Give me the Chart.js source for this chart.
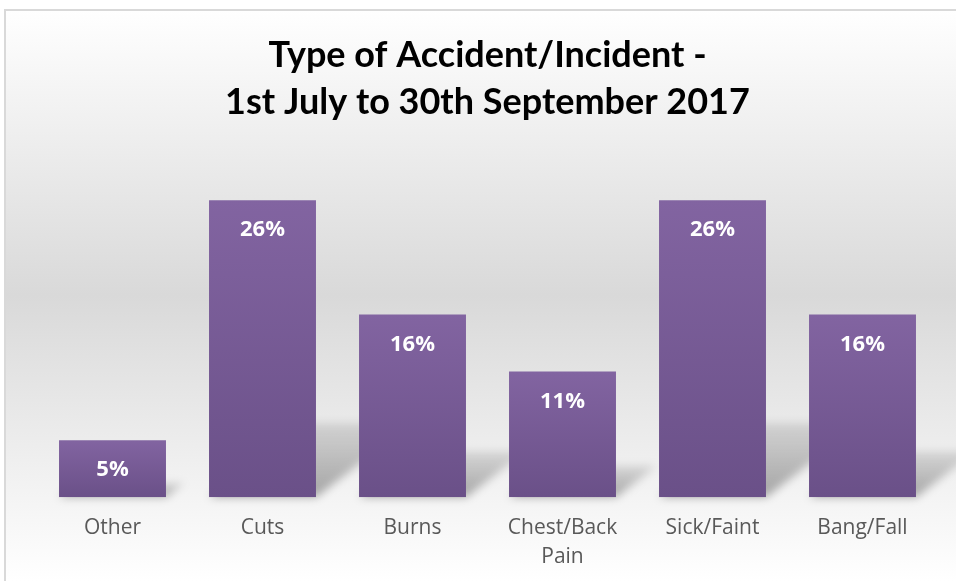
<!DOCTYPE html>
<html>
<head>
<meta charset="utf-8">
<script src="https://cdn.jsdelivr.net/npm/chart.js@4.4.1/dist/chart.umd.min.js"></script>
<style>
  html, body { margin: 0; padding: 0; background: #fff; }
</style>
</head>
<body>
<canvas id="grafico" width="956" height="581"></canvas>
<script>
// dados do gráfico
const categorias = ['Other', 'Cuts', 'Burns', ['Chest/Back', 'Pain'], 'Sick/Faint', 'Bang/Fall'];
const percentuais = [5, 26, 16, 11, 26, 16];
const tituloLinhas = ['Type of Accident/Incident -', '1st July to 30th September 2017'];

// fundo com degradê e moldura
const fundoPlugin = {
  id: 'fundo',
  beforeDraw(chart) {
    const ctx = chart.ctx;
    const w = chart.width, h = chart.height;
    ctx.save();
    ctx.fillStyle = '#ffffff';
    ctx.fillRect(0, 0, w, h);
    const g = ctx.createLinearGradient(0, 10, 0, h);
    g.addColorStop(0, '#ffffff');
    g.addColorStop(0.5, '#d9d9d9');
    g.addColorStop(1, '#ffffff');
    ctx.fillStyle = g;
    ctx.fillRect(5, 11, w - 5, h - 11);
    ctx.strokeStyle = '#d9d9d9';
    ctx.lineWidth = 2;
    ctx.beginPath();
    ctx.moveTo(5, h);
    ctx.lineTo(5, 10);
    ctx.lineTo(w, 10);
    ctx.stroke();
    ctx.restore();
  }
};

// sombra em perspectiva atrás das barras
const sombraPlugin = {
  id: 'sombra',
  beforeDatasetsDraw(chart) {
    const ctx = chart.ctx;
    const meta = chart.getDatasetMeta(0);
    ctx.save();
    ctx.filter = 'blur(4px)';
    meta.data.forEach(bar => {
      const x0 = bar.x - bar.width / 2;
      const x1 = bar.x + bar.width / 2;
      const alt = bar.base - bar.y;
      const dy = alt * 0.25;
      const dx = dy * 1.3;
      const g = ctx.createLinearGradient(0, bar.base, 0, bar.base - dy);
      g.addColorStop(0, 'rgba(0,0,0,0.32)');
      g.addColorStop(1, 'rgba(0,0,0,0.1)');
      ctx.fillStyle = g;
      ctx.beginPath();
      ctx.moveTo(x0, bar.base);
      ctx.lineTo(x1, bar.base);
      ctx.lineTo(x1 + dx, bar.base - dy);
      ctx.lineTo(x0 + dx, bar.base - dy);
      ctx.closePath();
      ctx.fill();
    });
    ctx.restore();
  }
};

// rótulos de valor dentro das barras
const rotuloPlugin = {
  id: 'rotulos',
  afterDatasetsDraw(chart) {
    const ctx = chart.ctx;
    const meta = chart.getDatasetMeta(0);
    ctx.save();
    ctx.font = 'bold 22px "Open Sans"';
    ctx.fillStyle = '#ffffff';
    ctx.textAlign = 'center';
    ctx.textBaseline = 'middle';
    meta.data.forEach((bar, i) => {
      ctx.fillText(percentuais[i] + '%', bar.x, bar.y + 30);
    });
    ctx.restore();
  }
};

function corBarra(context) {
  const chart = context.chart;
  const area = chart.chartArea;
  if (!area) return '#7a5c99';
  const y = chart.scales.y;
  const topo = y.getPixelForValue(percentuais[context.dataIndex]);
  const base = y.getPixelForValue(0);
  const g = chart.ctx.createLinearGradient(0, topo, 0, base);
  g.addColorStop(0, '#8264a1');
  g.addColorStop(1, '#6a5088');
  return g;
}

const ctx = document.getElementById('grafico').getContext('2d');
const grafico = new Chart(ctx, {
  type: 'bar',
  data: {
    labels: categorias,
    datasets: [{
      data: percentuais,
      backgroundColor: corBarra,
      borderWidth: 0,
      barPercentage: 0.713,
      categoryPercentage: 1
    }]
  },
  options: {
    responsive: false,
    animation: false,
    layout: {
      padding: { left: 37.5, right: 18.5, top: 10, bottom: -7 }
    },
    plugins: {
      legend: { display: false },
      tooltip: { enabled: false },
      title: {
        display: true,
        text: tituloLinhas,
        color: '#000000',
        font: { family: 'Lato', size: 36, weight: 'bold', lineHeight: 1.305 },
        padding: { top: 21.5, bottom: 29 }
      }
    },
    scales: {
      x: {
        grid: { display: false, drawTicks: false },
        border: { display: false },
        ticks: {
          color: '#595959',
          font: { family: 'Open Sans', size: 21, lineHeight: 1.35 },
          padding: 17,
          maxRotation: 0,
          autoSkip: false
        }
      },
      y: {
        display: false,
        min: 0,
        max: 30
      }
    }
  },
  plugins: [fundoPlugin, sombraPlugin, rotuloPlugin]
});
</script>
</body>
</html>
